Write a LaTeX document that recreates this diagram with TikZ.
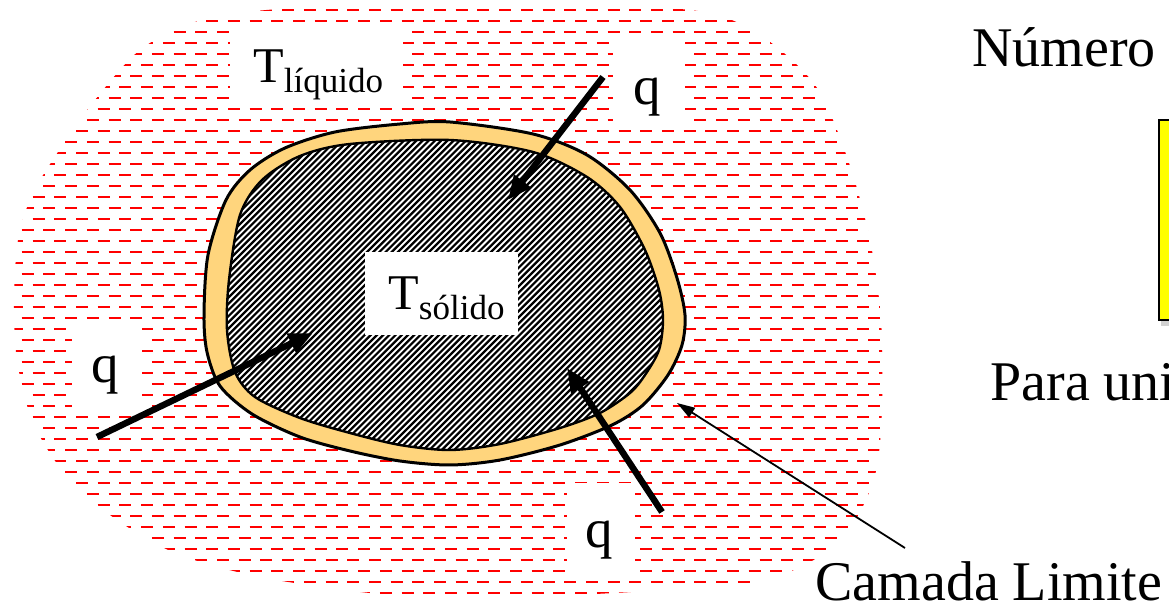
\documentclass[tikz,border=0pt]{standalone}
\usepackage{fontspec}
\setmainfont{Liberation Serif}
\usetikzlibrary{arrows.meta}
\definecolor{ringfill}{RGB}{255,213,125}
\definecolor{liqred}{RGB}{255,0,0}
\definecolor{boxyellow}{RGB}{255,255,0}
\newcommand\Tsub[1]{T\raisebox{-0.2em}{\fontsize{17.5}{18}\selectfont #1}}
\newcommand\liqpath{plot[smooth cycle] coordinates {(14,300) (18,240) (32,195) (58,152) (95,100) (140,50) (195,22) (280,9) (450,6) (680,9) (755,32) (815,85) (848,160) (870,240) (881,320) (882,410) (875,475) (850,528) (805,565) (740,585) (650,591) (500,598) (380,594) (260,577) (175,553) (110,515) (62,470) (32,420) (17,360)}}
\newcommand\ringpath{plot[smooth cycle] coordinates {(204,315) (208,255) (226,200) (250,170) (285,148) (335,132) (400,124) (450,122) (533,134) (587,155) (630,190) (660,233) (677,278) (685,315) (682,345) (668,375) (643,405) (612,425) (560,445) (500,460) (450,465) (400,461) (350,451) (300,437) (252,414) (220,386) (207,352)}}
\newcommand\solidpath{plot[smooth cycle] coordinates {(227,330) (229,280) (240,215) (262,180) (300,156) (350,144) (450,140) (533,152) (587,177) (620,207) (645,250) (659,290) (663,320) (659,350) (645,375) (630,393) (600,413) (560,428) (500,444) (450,450) (400,445) (350,433) (300,418) (255,397) (235,372)}}
\begin{document}
\begin{tikzpicture}[x=0.5pt,y=-0.5pt,
  heat/.style={line width=3.2pt, -{Triangle[length=12pt,width=10pt]}},
  thinarrow/.style={line width=0.9pt, -{Triangle[length=9pt,width=5.5pt]}},
  wbox/.style={fill=white, draw=none, inner sep=0pt, minimum width=#1},
  tfont/.style={font=\fontsize{25}{28}\selectfont, inner sep=0pt, anchor=base west},
  qfont/.style={font=\fontsize{27.5}{30}\selectfont, inner sep=0pt, anchor=base west},
  lbl/.style={font=\fontsize{28}{30}\selectfont, inner sep=0pt, anchor=base west},
  dashrow/.style={liqred, line width=1.35pt, dash pattern=on 6pt off 4.85pt}]
\useasboundingbox (0,0) rectangle (1169,608);
\clip (0,0) rectangle (1169,608);

% liquid region
\begin{scope}
  \clip \liqpath;
  \foreach \k in {0,...,53} {
    \pgfmathsetmacro\yy{10+11*\k}
    \pgfmathsetmacro\ph{mod(\k,2)*5.4}
    \draw[dashrow, dash phase=\ph pt] (0,\yy) -- (1169,\yy);
  }
\end{scope}

% boundary layer
\draw[line width=1.5pt, fill=ringfill] \ringpath;

% solid
\fill[white] \solidpath;
\begin{scope}
  \clip \solidpath;
  \foreach \c in {340,346.2,...,1140} {
    \draw[line width=1.1pt] ({\c-120},120) -- ({\c-480},480);
  }
\end{scope}
\draw[line width=1.2pt] \solidpath;

% label boxes
\node[wbox=86.5pt, minimum height=37.5pt] (bliq) at (316.5,65.5) {};
\node[tfont] (tliq) at (253,83) {\Tsub{líquido}};
\node[wbox=76.5pt, minimum height=41.5pt] (bsol) at (441.5,293.5) {};
\node[tfont] (tsol) at (388,310) {\Tsub{sólido}};
\node[wbox=36pt, minimum height=43.5pt] (bq1) at (649,81.5) {};
\node[qfont] (q1) at (633,105) {q};
\node[wbox=35pt, minimum height=45pt] (bq2) at (107,367) {};
\node[qfont] (q2) at (91,383) {q};
\node[wbox=34pt, minimum height=44.5pt] (bq3) at (601,527.5) {};
\node[qfont] (q3) at (585,548) {q};

% heat flux arrows
\coordinate (a1s) at (603,77);  \coordinate (a1e) at (508,200);
\coordinate (a2s) at (97,437);  \coordinate (a2e) at (313,333);
\coordinate (a3s) at (662,512); \coordinate (a3e) at (567,368);
\draw[heat] (a1s) -- (a1e);
\draw[heat] (a2s) -- (a2e);
\draw[heat] (a3s) -- (a3e);

% right side
\node[lbl] (num) at (972,67) {Número};
\fill[gray!35] (1161,124) rectangle (1200,326);
\node[draw=black, line width=1pt, fill=boxyellow, minimum width=30pt, minimum height=100pt, anchor=north west, inner sep=0pt] (ybox) at (1158,119) {};
\node[lbl] (para) at (990,401) {Para uni};
\node[lbl] (cam) at (815,601) {Camada Limite};
\coordinate (cls) at (905,548);
\coordinate (cle) at (677,403);
\draw[thinarrow] (cls) -- (cle);
\end{tikzpicture}
\end{document}
